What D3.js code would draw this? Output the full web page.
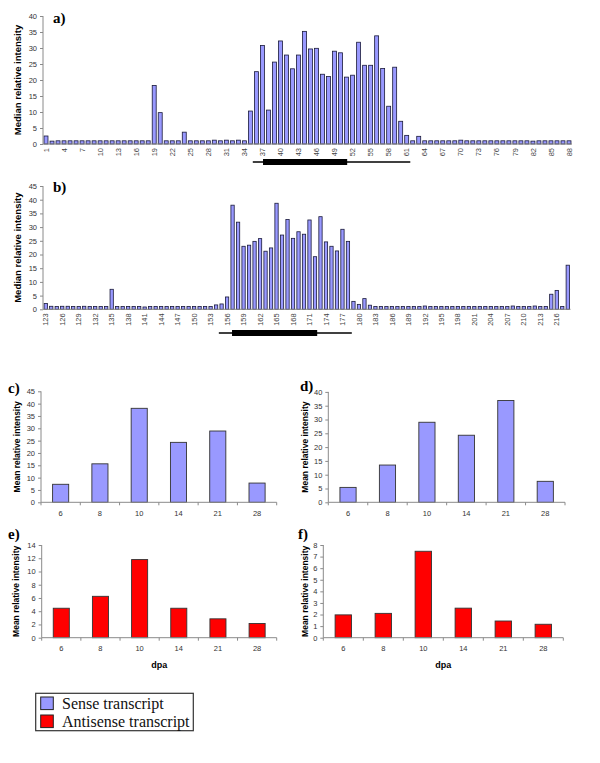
<!DOCTYPE html>
<html><head><meta charset="utf-8">
<script src="https://cdn.jsdelivr.net/npm/d3@7"></script>
<style>body{margin:0;background:#fff}svg{display:block}</style>
</head><body>
<svg id="chart" width="600" height="763"></svg>
<script>
// ---------- DATA ----------
const posA = d3.range(1, 89);
const valuesA = [2.5,0.9,1.0,1.0,1.0,1.0,1.0,1.0,1.0,1.0,1.0,1.0,1.0,1.0,1.0,1.0,1.0,1.0,18.3,9.8,
  1.0,1.0,1.0,3.7,1.0,1.0,1.0,1.0,1.2,1.0,1.2,1.0,1.2,1.0,10.3,22.6,30.8,10.6,25.6,32.2,
  27.8,23.5,27.8,35.2,29.7,29.9,21.8,21.1,29.0,28.5,20.9,21.5,31.8,24.6,24.6,33.8,23.6,11.8,24.0,7.1,
  2.7,1.0,2.4,1.0,1.0,1.0,1.0,1.0,1.0,1.2,1.0,1.0,1.0,1.0,1.0,1.0,1.0,1.0,1.0,1.0,
  1.0,0.9,1.0,1.0,1.0,1.0,1.0,1.0];
const tickLabelsA = [1,4,7,10,13,16,19,22,25,28,31,34,37,40,43,46,49,52,55,58,61,64,67,70,73,76,79,82,85,88];
const geneThinA = [35.4, 61.6];
const geneThickA = [37.1, 51.1];

const posB = d3.range(123, 219);
const valuesB = [2.1,1.1,1.0,1.1,1.1,1.0,1.0,1.1,1.0,1.0,1.0,1.0,7.3,1.0,1.0,1.0,1.0,1.0,0.85,1.0,
  1.0,1.0,1.0,1.0,1.0,1.0,1.0,1.0,1.0,1.0,1.0,1.6,1.95,4.5,38.0,31.8,23.0,23.4,24.8,25.8,
  21.2,22.4,38.7,27.1,32.8,25.9,28.3,27.4,32.6,19.2,33.8,24.6,23.0,21.3,29.2,24.8,2.9,1.8,3.9,1.5,
  1.0,1.0,1.0,1.0,1.0,1.0,1.0,1.0,1.0,1.2,1.0,1.0,1.0,1.0,1.0,1.0,1.0,1.0,1.0,1.0,
  1.0,1.0,1.0,1.0,1.0,1.2,1.0,1.0,1.0,1.2,1.0,1.0,5.5,6.9,1.0,16.1];
const tickLabelsB = [123,126,129,132,135,138,141,144,147,150,153,156,159,162,165,168,171,174,177,180,183,186,189,192,195,198,201,204,207,210,213,216];
const geneThinB = [154.5, 178.7];
const geneThickB = [156.9, 172.4];

const dpa = ["6","8","10","14","21","28"];
const senseC = [7.3, 15.6, 38.1, 24.3, 28.9, 7.8];
const senseD = [5.4, 13.5, 29.0, 24.3, 36.9, 7.6];
const antiE = [4.45, 6.25, 11.8, 4.45, 2.85, 2.15];
const antiF = [1.97, 2.1, 7.46, 2.55, 1.44, 1.16];

const legendItems = ["Sense transcript", "Antisense transcript"];

// ---------- STYLE ----------
const SENSE = "#9999ff", ANTI = "#ff0000", OUTLINE = "#1a1a3a", AXIS = "#8a8a8a";
const SANS = "'Liberation Sans', Arial, sans-serif";
const SERIF = "'Liberation Serif', 'Times New Roman', serif";
const svg = d3.select("#chart");

function yAxis(g, y, x0, maxV, step, fs) {
  const ticks = d3.range(0, maxV + 0.001, step);
  const ax = d3.axisLeft(y).tickValues(ticks).tickSize(3).tickPadding(3).tickFormat(d3.format("d"));
  const a = g.append("g").attr("transform", `translate(${x0},0)`).call(ax);
  a.select(".domain").attr("stroke", AXIS).attr("d", `M-0,${y(maxV)}V${y(0)}`);
  a.selectAll(".tick line").attr("stroke", AXIS);
  a.selectAll(".tick text").attr("fill", "#333").style("font-family", SANS).style("font-size", fs + "px");
}

function bigPanel(opt) {
  const g = svg.append("g");
  const x = d3.scaleBand().domain(opt.pos).range([opt.left, opt.right]).paddingInner(opt.pad).paddingOuter(opt.pad / 2);
  const xl = d3.scaleLinear().domain([opt.pos[0] - 0.5, opt.pos[opt.pos.length - 1] + 0.5]).range([opt.left, opt.right]);
  const y = d3.scaleLinear().domain([0, opt.ymax]).range([opt.bottom, opt.top]);
  g.selectAll("rect.bar").data(opt.values).enter().append("rect")
    .attr("x", (d, i) => x(opt.pos[i])).attr("width", x.bandwidth())
    .attr("y", d => y(d)).attr("height", d => y(0) - y(d))
    .attr("fill", SENSE).attr("stroke", OUTLINE).attr("stroke-width", 0.8);
  yAxis(g, y, opt.left, opt.ymax, 5, 7.5);
  // x axis line
  const xa = d3.axisBottom(x).tickValues(opt.ticks).tickSize(0).tickPadding(4);
  const a = g.append("g").attr("transform", `translate(0,${opt.bottom})`).call(xa);
  a.select(".domain").attr("stroke", AXIS).attr("d", `M${opt.left},0H${opt.right}`);
  a.selectAll(".tick text").attr("fill", "#444").style("font-family", SANS).style("font-size", "7.5px")
    .attr("transform", "rotate(-90)").attr("text-anchor", "end").attr("dy", "0.35em")
    .attr("x", -4).attr("y", 0);
  // gene structure
  g.append("line").attr("x1", xl(opt.thin[0])).attr("x2", xl(opt.thin[1]))
    .attr("y1", opt.geneY).attr("y2", opt.geneY).attr("stroke", "#000").attr("stroke-width", 1.3);
  g.append("rect").attr("x", xl(opt.thick[0])).attr("width", xl(opt.thick[1]) - xl(opt.thick[0]))
    .attr("y", opt.geneY - 3).attr("height", 6).attr("fill", "#000");
  // y title
  g.append("text").attr("transform", `translate(${opt.titleX},${(opt.top + opt.bottom) / 2}) rotate(-90)`)
    .attr("text-anchor", "middle").attr("dy", "0.35em")
    .style("font-family", SANS).style("font-weight", "bold").style("font-size", "9.5px").text("Median relative intensity");
  g.append("text").attr("x", opt.labelX).attr("y", opt.labelY)
    .style("font-family", SERIF).style("font-weight", "bold").style("font-size", "15px").text(opt.label);
}

bigPanel({pos: posA, values: valuesA, ticks: tickLabelsA, left: 43, right: 572, top: 16, bottom: 144, ymax: 40, pad: 0.34,
  thin: geneThinA, thick: geneThickA, geneY: 162, titleX: 18, label: "a)", labelX: 53, labelY: 23});
bigPanel({pos: posB, values: valuesB, ticks: tickLabelsB, left: 43, right: 570.5, top: 186, bottom: 309.3, ymax: 45, pad: 0.4,
  thin: geneThinB, thick: geneThickB, geneY: 333, titleX: 18, label: "b)", labelX: 53, labelY: 192});

function smallPanel(opt) {
  const g = svg.append("g");
  const x = d3.scaleBand().domain(dpa).range([opt.left, opt.right]).paddingInner(0.59).paddingOuter(0.295);
  const y = d3.scaleLinear().domain([0, opt.ymax]).range([opt.bottom, opt.top]);
  g.selectAll("rect.bar").data(opt.values).enter().append("rect")
    .attr("x", (d, i) => x(dpa[i])).attr("width", x.bandwidth())
    .attr("y", d => y(d)).attr("height", d => y(0) - y(d))
    .attr("fill", opt.color).attr("stroke", "#333").attr("stroke-width", 0.9);
  yAxis(g, y, opt.left, opt.ymax, opt.step, 7.5);
  const a = g.append("g").attr("transform", `translate(0,${opt.bottom})`)
    .call(d3.axisBottom(x).tickSize(0).tickPadding(8));
  a.select(".domain").attr("stroke", AXIS).attr("d", `M${opt.left},0H${opt.right}`);
  a.selectAll(".tick text").attr("fill", "#333").style("font-family", SANS).style("font-size", "7.5px");
  // boundary tick marks
  const step = x.step();
  g.selectAll("line.bt").data(d3.range(0, dpa.length + 1)).enter().append("line")
    .attr("x1", i => opt.left + i * step).attr("x2", i => opt.left + i * step)
    .attr("y1", opt.bottom).attr("y2", opt.bottom + 3).attr("stroke", AXIS);
  g.append("text").attr("transform", `translate(${opt.titleX},${(opt.top + opt.bottom) / 2}) rotate(-90)`)
    .attr("text-anchor", "middle").attr("dy", "0.35em")
    .style("font-family", SANS).style("font-weight", "bold").style("font-size", "8.5px").text("Mean relative intensity");
  g.append("text").attr("x", opt.labelX).attr("y", opt.labelY)
    .style("font-family", SERIF).style("font-weight", "bold").style("font-size", "15px").text(opt.label);
  if (opt.dpa) {
    g.append("text").attr("x", (opt.left + opt.right) / 2).attr("y", 668).attr("text-anchor", "middle")
      .style("font-family", SANS).style("font-weight", "bold").style("font-size", "9px").text("dpa");
  }
}

smallPanel({values: senseC, color: SENSE, left: 41, right: 276.7, top: 391.3, bottom: 502.3, ymax: 45, step: 5,
  titleX: 17, label: "c)", labelX: 8, labelY: 393});
smallPanel({values: senseD, color: SENSE, left: 328.3, right: 565, top: 391.9, bottom: 502.3, ymax: 40, step: 5,
  titleX: 305, label: "d)", labelX: 300, labelY: 391});
smallPanel({values: antiE, color: ANTI, left: 41.7, right: 276.7, top: 545, bottom: 637.7, ymax: 14, step: 2,
  titleX: 16, label: "e)", labelX: 8, labelY: 539, dpa: true});
smallPanel({values: antiF, color: ANTI, left: 323.3, right: 563.3, top: 545, bottom: 637.7, ymax: 8, step: 1,
  titleX: 305, label: "f)", labelX: 298, labelY: 539, dpa: true});

// ---------- LEGEND ----------
const lg = svg.append("g");
lg.append("rect").attr("x", 35.7).attr("y", 693.3).attr("width", 157.6).attr("height", 37.4)
  .attr("fill", "#fff").attr("stroke", "#333").attr("stroke-width", 1.2);
const lcol = [SENSE, ANTI];
lg.selectAll("rect.sw").data(legendItems).enter().append("rect")
  .attr("x", 40.7).attr("y", (d, i) => 697 + i * 18).attr("width", 12.6).attr("height", 12.6)
  .attr("fill", (d, i) => lcol[i]).attr("stroke", "#222").attr("stroke-width", 1);
lg.selectAll("text.lt").data(legendItems).enter().append("text")
  .attr("x", 62).attr("y", (d, i) => 709 + i * 17.5)
  .style("font-family", SERIF).style("font-size", "16px").attr("fill", "#111").text(d => d);
</script>
</body></html>
